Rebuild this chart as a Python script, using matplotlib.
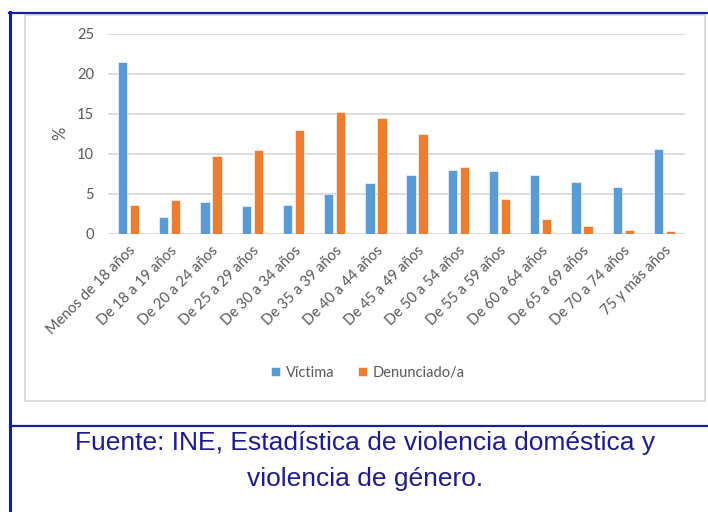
import numpy as np
import matplotlib
matplotlib.use('Agg')
import matplotlib.pyplot as plt
from matplotlib.lines import Line2D
from matplotlib.patches import Rectangle

# data
grupos = ['Menos de 18 años', 'De 18 a 19 años', 'De 20 a 24 años', 'De 25 a 29 años',
          'De 30 a 34 años', 'De 35 a 39 años', 'De 40 a 44 años', 'De 45 a 49 años',
          'De 50 a 54 años', 'De 55 a 59 años', 'De 60 a 64 años', 'De 65 a 69 años',
          'De 70 a 74 años', '75 y más años']
victima = [21.5, 2.1, 4.0, 3.4, 3.6, 5.0, 6.3, 7.3, 7.9, 7.85, 7.3, 6.4, 5.8, 10.6]
denunciado = [3.6, 4.2, 9.7, 10.5, 12.9, 15.2, 14.4, 12.4, 8.3, 4.3, 1.8, 0.9, 0.45, 0.35]
yticks = [0, 5, 10, 15, 20, 25]

W, H = 708, 512
azul = '#5B9BD5'
naranja = '#ED7D31'
gris = '#595959'
marco = '#15219A'
fuente = 'Lato'

fig = plt.figure(figsize=(W / 100, H / 100), dpi=100)

def fx(px):
    return px / W

def fy(py):
    return 1 - py / H

# outer frame and chart box
fig.add_artist(Line2D([fx(10), fx(10)], [fy(12), fy(512)], color=marco, lw=2.2))
fig.add_artist(Line2D([fx(9), fx(708)], [fy(12.8), fy(12.8)], color=marco, lw=1.6))
fig.add_artist(Line2D([fx(10), fx(708)], [fy(425.5), fy(425.5)], color=marco, lw=1.6))
fig.add_artist(Rectangle((fx(25), fy(400.5)), fx(705) - fx(25), fy(14.5) - fy(400.5),
                         transform=fig.transFigure, fill=False, edgecolor='#D9D9D9', lw=1.3))

ax = fig.add_axes([fx(108), fy(233.5), fx(685) - fx(108), fy(33.5) - fy(233.5)])
x = np.arange(len(grupos))
w = 0.225
ax.bar(x - 0.145, victima, w, color=azul, edgecolor='white', linewidth=0.4, label='Víctima', zorder=3)
ax.bar(x + 0.145, denunciado, w, color=naranja, edgecolor='white', linewidth=0.4, label='Denunciado/a', zorder=3)

ax.set_xlim(-0.5, len(grupos) - 0.5)
ax.set_ylim(0, 25)
ax.set_yticks(yticks)
ax.yaxis.grid(True, color='#D9D9D9', lw=1.3, zorder=0)
for s in ax.spines.values():
    s.set_visible(False)
ax.tick_params(axis='both', length=0, colors=gris, labelsize=10.5)
ax.tick_params(axis='y', pad=10)
ax.tick_params(axis='x', pad=7)
ax.set_xticks(x)
ax.set_xticklabels(grupos, rotation=45, ha='right', va='top', rotation_mode='anchor')
for lab in ax.get_xticklabels() + ax.get_yticklabels():
    lab.set_family(fuente)
ax.set_ylabel('%', color=gris, fontsize=12, family=fuente, labelpad=6)

leg = fig.legend(loc='center', bbox_to_anchor=(fx(368), fy(373)), ncol=2, frameon=False,
                 prop={'family': fuente, 'size': 10.5}, handlelength=0.6, handleheight=0.6,
                 handletextpad=0.4, columnspacing=1.6)
for t in leg.get_texts():
    t.set_color(gris)

fig.text(fx(365), fy(443), 'Fuente: INE, Estadística de violencia doméstica y',
         ha='center', va='center', color='#1C1C8E', fontsize=19, family='Liberation Sans')
fig.text(fx(365), fy(479), 'violencia de género.',
         ha='center', va='center', color='#1C1C8E', fontsize=19, family='Liberation Sans')

fig.savefig('out.png', dpi=100)
